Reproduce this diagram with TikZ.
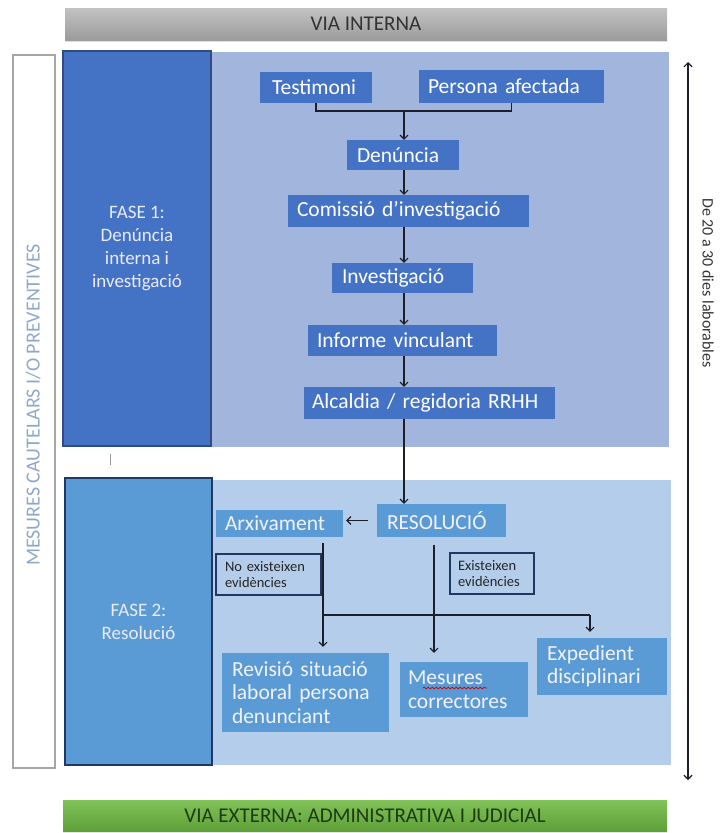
\documentclass[tikz,border=0pt]{standalone}
\usepackage{fontspec}
\setmainfont{Carlito}
\usetikzlibrary{arrows.meta,shadows,decorations.pathmorphing}
\definecolor{graytop}{HTML}{C2C2C2}
\definecolor{graybot}{HTML}{9C9C9C}
\definecolor{bluedark}{HTML}{4472C4}
\definecolor{bluedarkb}{HTML}{2F4B80}
\definecolor{panelone}{HTML}{A2B5DD}
\definecolor{bluemid}{HTML}{5B9BD5}
\definecolor{bluemidb}{HTML}{1F3864}
\definecolor{paneltwo}{HTML}{B4CDEA}
\definecolor{greentop}{HTML}{80C257}
\definecolor{greenbot}{HTML}{5E9F37}
\definecolor{greentext}{HTML}{1E3A14}
\definecolor{arrowc}{HTML}{1E1E28}
\definecolor{sidetext}{HTML}{8FA8C8}
\begin{document}
\begin{tikzpicture}[x=1pt,y=-1pt,
  bar/.style={inner sep=0pt, font=\fontsize{21}{24}\selectfont},
  phasebox/.style={inner sep=0pt, text=white!92!blue, align=center, line width=1.3pt, font=\fontsize{19}{23}\selectfont},
  onenode/.style={fill=bluedark, text=white, inner sep=0pt, align=left, font=\fontsize{21.5}{24}\selectfont},
  twonode/.style={fill=bluemid, text=white!95!blue, inner sep=0pt, align=left, font=\fontsize{21.5}{23.5}\selectfont},
  notebox/.style={draw=bluemidb, line width=1.2pt, fill=paneltwo, inner sep=0pt, align=left, text=black!85, font=\fontsize{14.5}{16.5}\selectfont},
  arr/.style={draw=arrowc, line width=1.1pt, -{Straight Barb[length=4pt,width=8pt]}},
  conn/.style={draw=arrowc, line width=1.1pt}
]
\useasboundingbox (0,0) rectangle (720,833);

% top and bottom bars
\node[bar, top color=graytop, bottom color=graybot, text=black!80, minimum width=602, minimum height=32,
  drop shadow={shadow xshift=0pt, shadow yshift=-2pt, opacity=0.25}] (vint) at (366,24) {VIA INTERNA};
\node[bar, top color=greentop, bottom color=greenbot, text=greentext, minimum width=604, minimum height=31,
  drop shadow={shadow xshift=0pt, shadow yshift=-2pt, opacity=0.2}] (vext) at (365,816) {VIA EXTERNA: ADMINISTRATIVA I JUDICIAL};

% side outline box
\node[draw=black!35, line width=1.2pt, minimum width=42, minimum height=713, inner sep=0pt] (mes) at (34,411.5) {};
\node[rotate=90, text=sidetext, font=\fontsize{20}{22}\selectfont, inner sep=0pt] (mestxt) at (33,405) {MESURES CAUTELARS I/O PREVENTIVES};

% panels
\fill[panelone] (211,52) rectangle (669,447);
\fill[paneltwo] (211,480) rectangle (671,765);

% phase boxes
\node[phasebox, fill=bluedark, draw=bluedarkb, minimum width=148, minimum height=395] (f1) at (137,248.5)
  {FASE 1:\\Denúncia\\interna i\\investigació};
\node[phasebox, fill=bluemid, draw=bluemidb, minimum width=147, minimum height=287] (f2) at (138.5,621.5)
  {FASE 2:\\Resolució};
\draw[black!40, line width=1pt] (110,454) -- (110,465);

% phase 1 nodes
\node[onenode, minimum width=112, minimum height=31, text width=88] (test) at (316,87.5) {Testimoni};
\node[onenode, minimum width=185, minimum height=33, text width=167] (pers) at (511.5,86.5) {Persona afectada};
\node[onenode, minimum width=112, minimum height=30, text width=92] (den) at (403,155) {Denúncia};
\node[onenode, minimum width=241, minimum height=32, text width=223] (com) at (408.5,211) {Comissió d’investigació};
\node[onenode, minimum width=141, minimum height=30, text width=121] (inv) at (402.5,278) {Investigació};
\node[onenode, minimum width=189, minimum height=31, text width=171] (inf) at (402.5,340.5) {Informe vinculant};
\node[onenode, minimum width=251, minimum height=32, text width=235] (alc) at (429.5,403) {Alcaldia / regidoria RRHH};

\coordinate (ax) at (404,0);
\coordinate (j) at (404,111);
\draw[conn] (test.south) -- (test.south |- j) -| (pers.south);
\draw[arr] (j) -- (j |- den.north);
\draw[arr] (ax |- den.south) -- (ax |- com.north);
\draw[arr] (ax |- com.south) -- (ax |- inv.north);
\draw[arr] (ax |- inv.south) -- (ax |- inf.north);
\draw[arr] (ax |- inf.south) -- (ax |- alc.north);

% phase 2 nodes
\node[twonode, minimum width=129, minimum height=33, text width=109] (res) at (441.5,520.5) {RESOLUCIÓ};
\node[twonode, minimum width=127, minimum height=27, text width=109] (arx) at (279.5,523.5) {Arxivament};
\node[notebox, minimum width=105, minimum height=41, text width=87] (no) at (268.5,574.5) {No existeixen\\evidències};
\node[notebox, minimum width=84, minimum height=41, text width=68] (ex) at (492,573.5) {Existeixen\\evidències};
\node[twonode, minimum width=167, minimum height=79, text width=147] (rev) at (305.5,692.5)
  {Revisió situació\\laboral persona\\denunciant};
\node[twonode, minimum width=128, minimum height=55, text width=112] (mesc) at (464,689.5) {Mesures\\correctores};
\node[twonode, minimum width=130, minimum height=57, text width=110] (exp) at (602,666.5) {Expedient\\disciplinari};

\draw[arr] (ax |- alc.south) -- (ax |- res.north);
\draw[arr, shorten <=9pt, shorten >=3pt] (res.west) -- (res.west -| arx.east);

\coordinate (b1) at (323,543);
\coordinate (b2) at (434,545);
\coordinate (b3) at (590,615);
\draw[arr, shorten >=6pt] (b1) -- (b1 |- rev.north);
\draw[arr, shorten >=9pt] (b2) -- (b2 |- mesc.north);
\draw[conn] (b1 |- b3) -- (b3);
\draw[arr, shorten >=6pt] (b3) -- (b3 |- exp.north);

% spelling squiggle under "Mesures"
\draw[red!80!black, line width=0.7pt, decorate, decoration={snake, amplitude=0.9pt, segment length=4pt}] (423,688) -- (487,688);

% duration arrow
\coordinate (dtop) at (688,62);
\coordinate (dbot) at (688,780);
\draw[draw=arrowc, line width=1.2pt, {Straight Barb[length=4pt,width=8pt]}-{Straight Barb[length=4pt,width=8pt]}] (dtop) -- (dbot);
\node[rotate=-90, text=black!80, font=\fontsize{16}{18}\selectfont, inner sep=0pt] (dur) at (708,283) {De 20 a 30 dies laborables};
\end{tikzpicture}
\end{document}
